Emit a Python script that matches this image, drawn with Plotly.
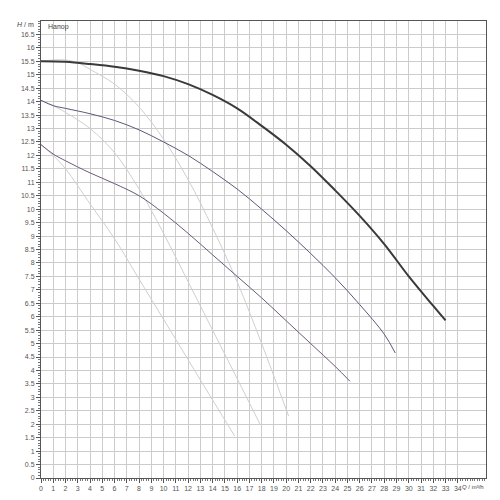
import plotly.graph_objects as go

# Thick curve (max)
q_max = [0, 2, 4, 6, 8, 10, 12, 14, 16, 18, 20, 22, 24, 26, 28, 30, 32, 33]
h_max = [15.5, 15.48, 15.4, 15.3, 15.15, 14.95, 14.65, 14.25, 13.75, 13.1, 12.4, 11.6, 10.7, 9.75, 8.7, 7.5, 6.4, 5.86]

# Middle curve
q_mid = [0, 1, 2, 4, 6, 8, 10, 12, 14, 16, 18, 20, 22, 24, 26, 28, 28.9]
h_mid = [14.05, 13.85, 13.75, 13.55, 13.3, 12.95, 12.5, 12.0, 11.4, 10.75, 10.0, 9.2, 8.35, 7.45, 6.45, 5.35, 4.65]

# Lower curve
q_low = [0, 1, 2, 4, 6, 8, 10, 12, 14, 16, 18, 20, 22, 24, 25.2]
h_low = [12.4, 12.05, 11.8, 11.35, 10.95, 10.5, 9.85, 9.1, 8.3, 7.5, 6.7, 5.85, 5.0, 4.15, 3.6]

# Light grey lines
q_ga = [0, 1, 2, 4, 6, 8, 10, 12, 14, 15.8]
h_ga = [12.4, 12.0, 11.5, 10.2, 8.9, 7.4, 5.9, 4.4, 2.9, 1.56]

q_gb = [0, 1, 2, 4, 6, 8, 10, 12, 14, 16, 17.9]
h_gb = [14.05, 13.85, 13.6, 13.0, 12.1, 10.75, 9.1, 7.3, 5.5, 3.7, 1.97]

q_gc = [0, 1, 2, 3, 4, 6, 8, 10, 12, 14, 16, 18, 20.2]
h_gc = [15.5, 15.55, 15.55, 15.45, 15.2, 14.65, 13.8, 12.6, 11.1, 9.3, 7.3, 5.0, 2.3]

x_ticks = list(range(0, 35))
y_ticks = [i * 0.5 for i in range(0, 34)]

fig = go.Figure()

for q, h in [(q_ga, h_ga), (q_gb, h_gb), (q_gc, h_gc)]:
    fig.add_trace(go.Scatter(x=q, y=h, mode="lines", line=dict(color="#cfcfcf", width=1, shape="spline"),
                             showlegend=False, hoverinfo="skip"))

fig.add_trace(go.Scatter(x=q_low, y=h_low, mode="lines", line=dict(color="#6b5a78", width=1, shape="spline"), showlegend=False))
fig.add_trace(go.Scatter(x=q_mid, y=h_mid, mode="lines", line=dict(color="#5a5a78", width=1, shape="spline"), showlegend=False))
fig.add_trace(go.Scatter(x=q_max, y=h_max, mode="lines", line=dict(color="#3a3a3a", width=2, shape="spline"), showlegend=False))

fig.update_layout(
    width=500, height=500,
    margin=dict(l=33, r=22, t=13, b=30),
    paper_bgcolor="white", plot_bgcolor="white",
    font=dict(family="Liberation Sans", size=7, color="#555555"),
)
fig.update_xaxes(range=[0, 36.3], tickvals=x_ticks, ticktext=[str(v) for v in x_ticks],
                 showgrid=True, gridcolor="#cccccc", gridwidth=1, zeroline=False,
                 showline=True, linecolor="#555555", linewidth=1, mirror=True,
                 ticks="outside", ticklen=4, tickcolor="#555555",
                 minor=dict(dtick=0.2, ticks="outside", ticklen=2, tickcolor="#777777", showgrid=False),
                 tickfont=dict(family="Liberation Sans", size=7, color="#555555"))
fig.update_yaxes(range=[0, 17], tickvals=y_ticks, ticktext=[("%g" % v) for v in y_ticks],
                 showgrid=True, gridcolor="#cccccc", gridwidth=1, zeroline=False,
                 showline=True, linecolor="#555555", linewidth=1, mirror=True,
                 ticks="outside", ticklen=4, tickcolor="#555555",
                 minor=dict(dtick=0.1, ticks="outside", ticklen=2, tickcolor="#777777", showgrid=False),
                 tickfont=dict(family="Liberation Sans", size=7, color="#555555"))

fig.add_annotation(xref="paper", yref="paper", x=0.012, y=0.986, xanchor="left", yanchor="middle",
                   text="Напор", showarrow=False, font=dict(family="Liberation Sans", size=7, color="#444444"))
fig.add_annotation(xref="paper", yref="paper", x=-0.012, y=0.993, xanchor="right", yanchor="middle",
                   text="<i>H</i> / m", showarrow=False, font=dict(family="Liberation Sans", size=7, color="#444444"))
fig.add_annotation(xref="paper", yref="paper", x=1.0, y=-0.008, xanchor="right", yanchor="top",
                   text="<i>Q</i> / m³/h", showarrow=False, font=dict(family="Liberation Sans", size=6, color="#444444"))

fig.write_html("out.html")
